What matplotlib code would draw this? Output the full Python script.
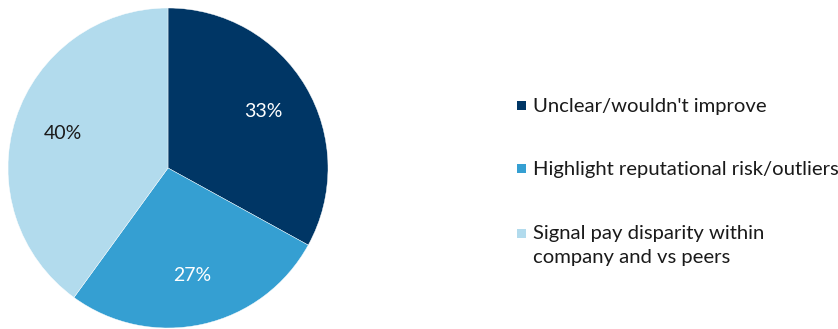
import matplotlib.pyplot as plt
from matplotlib.patches import Rectangle

plt.rcParams['font.family'] = ['Lato', 'DejaVu Sans']

labels = ["Unclear/wouldn't improve",
          "Highlight reputational risk/outliers",
          "Signal pay disparity within\ncompany and vs peers"]
shares = [33, 27, 40]
colors = ['#003665', '#359fd2', '#b2dbed']
pct_colors = ['white', 'white', '#1a1a1a']

W, H = 838, 329
fig = plt.figure(figsize=(W / 100, H / 100), dpi=100)

# pie axes: 320 px square, left edge at x=8
ax = fig.add_axes([8 / W, 1 / H, 320 / W, 320 / H])
wedges, texts, autotexts = ax.pie(
    shares, colors=colors, startangle=90, counterclock=False,
    autopct='%d%%', pctdistance=0.69, radius=1,
    wedgeprops=dict(linewidth=0.3, edgecolor='white'),
    textprops=dict(fontsize=14))
for t, c in zip(autotexts, pct_colors):
    t.set_color(c)
ax.set_xlim(-1.0, 1.0)
ax.set_ylim(-1.0, 1.0)
ax.set_aspect('equal')

# legend drawn by hand so the swatch sits on the first text line
row_y = [105.5, 168.5, 233]
line_step = 23.5
for lab, col, y in zip(labels, colors, row_y):
    fig.patches.append(Rectangle((517 / W, 1 - (y + 4.5) / H), 9 / W, 9 / H,
                                 transform=fig.transFigure, facecolor=col,
                                 edgecolor='none'))
    for i, line in enumerate(lab.split('\n')):
        fig.text(533 / W, 1 - (y + 6.5 + i * line_step) / H, line,
                 fontsize=14.6, color='#1a1a1a', va='baseline', ha='left')

fig.savefig('out.png', dpi=100)
